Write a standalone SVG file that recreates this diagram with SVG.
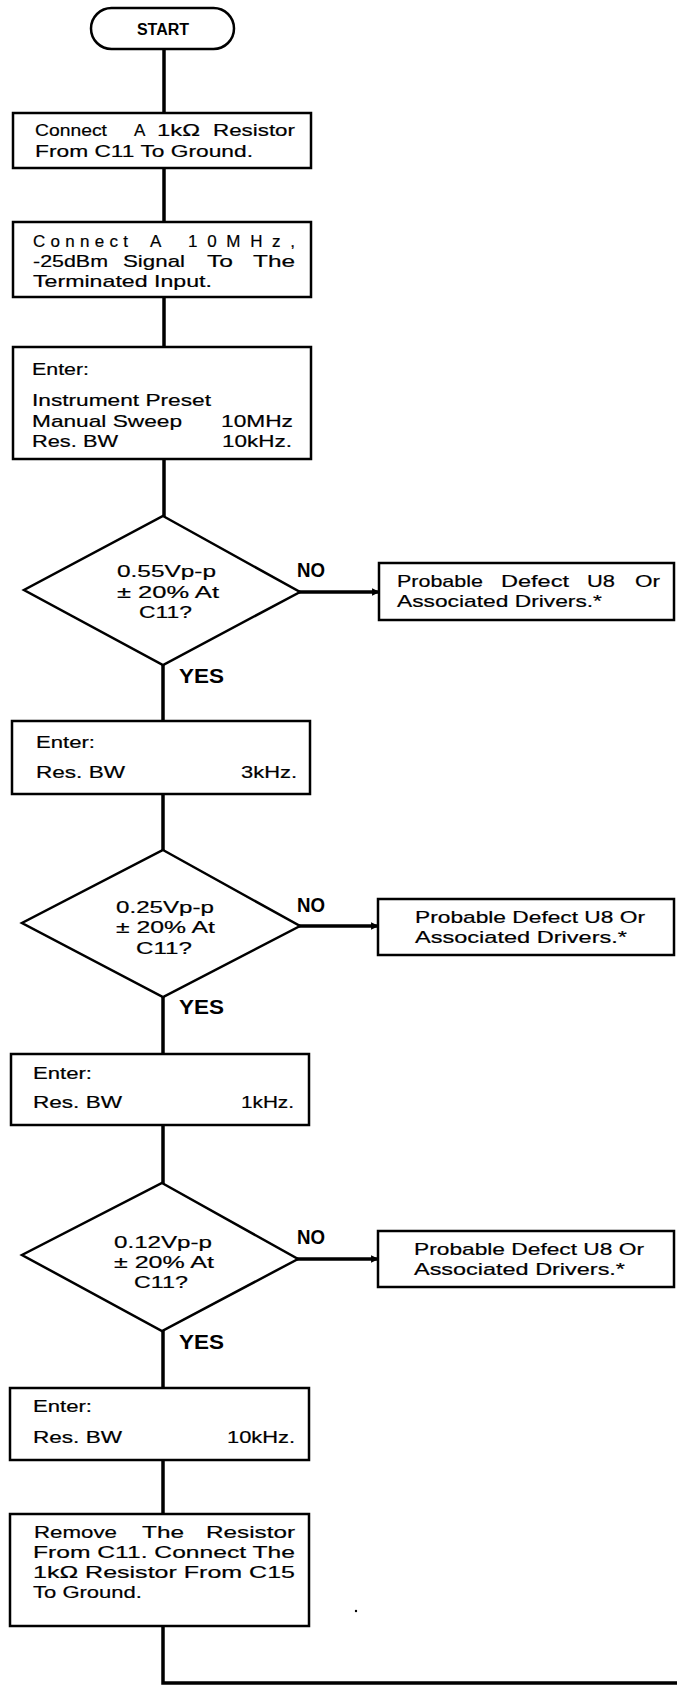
<svg xmlns="http://www.w3.org/2000/svg" width="677" height="1690" viewBox="0 0 677 1690">
  <style>
    .box { fill: #ffffff; stroke: #000000; stroke-width: 2.5; }
    .wire { fill: none; stroke: #000000; stroke-width: 3.5; stroke-linecap: square; }
    .txt { font-family: "Liberation Sans", Arial, sans-serif; font-size: 17px; fill: #000000; stroke: #000000; stroke-width: 0.2; }
    .lbl { font-family: "Liberation Sans", Arial, sans-serif; font-size: 20px; font-weight: bold; fill: #000000; }
    .mid { text-anchor: middle; }
  </style>
  <defs>
    <marker id="arrow" viewBox="0 0 10 10" refX="9" refY="5" markerWidth="2.2" markerHeight="2.2" orient="auto">
      <path d="M0,0 L10,5 L0,10 z" fill="#000000"/>
    </marker>
  </defs>
  <rect width="677" height="1690" fill="#ffffff"/>

  <!-- connectors and their branch labels -->
  <g id="connectors">
    <line class="wire" x1="164" y1="49" x2="164" y2="113"/>
    <line class="wire" x1="164" y1="168" x2="164" y2="222"/>
    <line class="wire" x1="164" y1="297" x2="164" y2="347"/>
    <line class="wire" x1="164" y1="459" x2="164" y2="516"/>
    <line class="wire" x1="300" y1="592" x2="379" y2="592" marker-end="url(#arrow)"/>
    <line class="wire" x1="163" y1="665" x2="163" y2="721"/>
    <line class="wire" x1="163" y1="794" x2="163" y2="850"/>
    <line class="wire" x1="300" y1="926" x2="378" y2="926" marker-end="url(#arrow)"/>
    <line class="wire" x1="163" y1="997" x2="163" y2="1054"/>
    <line class="wire" x1="163" y1="1125" x2="163" y2="1183"/>
    <line class="wire" x1="298" y1="1259" x2="378" y2="1259" marker-end="url(#arrow)"/>
    <line class="wire" x1="163" y1="1331" x2="163" y2="1388"/>
    <line class="wire" x1="163" y1="1460" x2="163" y2="1514"/>
    <polyline class="wire" points="163,1626 163,1683 680,1683"/>
    <text class="lbl" x="297" y="577" textLength="28" lengthAdjust="spacingAndGlyphs">NO</text>
    <text class="lbl" x="179" y="683" textLength="45" lengthAdjust="spacingAndGlyphs">YES</text>
    <text class="lbl" x="297" y="912" textLength="28" lengthAdjust="spacingAndGlyphs">NO</text>
    <text class="lbl" x="179" y="1014" textLength="45" lengthAdjust="spacingAndGlyphs">YES</text>
    <text class="lbl" x="297" y="1244" textLength="28" lengthAdjust="spacingAndGlyphs">NO</text>
    <text class="lbl" x="179" y="1349" textLength="45" lengthAdjust="spacingAndGlyphs">YES</text>
  </g>

  <!-- start terminal -->
  <g id="start">
    <rect class="box" x="91" y="8" width="143" height="41" rx="20.5"/>
    <text class="lbl mid" x="163" y="35" style="font-size:16px">START</text>
  </g>

  <g id="connect-resistor">
    <rect class="box" x="13" y="113" width="298" height="55"/>
    <text class="txt" x="35" y="136" textLength="72" lengthAdjust="spacingAndGlyphs">Connect</text>
    <text class="txt" x="134" y="136">A</text>
    <text class="txt" x="157" y="136" textLength="43" lengthAdjust="spacingAndGlyphs">1kΩ</text>
    <text class="txt" x="213" y="136" textLength="82" lengthAdjust="spacingAndGlyphs">Resistor</text>
    <text class="txt" x="35" y="157" textLength="218" lengthAdjust="spacingAndGlyphs">From C11 To Ground.</text>
  </g>

  <g id="connect-signal">
    <rect class="box" x="13" y="222" width="298" height="75"/>
    <text class="txt" x="33" y="247" textLength="95" lengthAdjust="spacing">Connect</text>
    <text class="txt" x="150" y="247">A</text>
    <text class="txt" x="188" y="247" textLength="107" lengthAdjust="spacing">10MHz,</text>
    <text class="txt" x="33" y="267" textLength="75" lengthAdjust="spacingAndGlyphs">-25dBm</text>
    <text class="txt" x="123" y="267" textLength="62" lengthAdjust="spacingAndGlyphs">Signal</text>
    <text class="txt" x="207" y="267" textLength="26" lengthAdjust="spacingAndGlyphs">To</text>
    <text class="txt" x="253" y="267" textLength="42" lengthAdjust="spacingAndGlyphs">The</text>
    <text class="txt" x="33" y="287" textLength="179" lengthAdjust="spacingAndGlyphs">Terminated Input.</text>
  </g>

  <g id="enter-preset">
    <rect class="box" x="13" y="347" width="298" height="112"/>
    <text class="txt" x="32" y="375" textLength="57" lengthAdjust="spacingAndGlyphs">Enter:</text>
    <text class="txt" x="32" y="406" textLength="179" lengthAdjust="spacingAndGlyphs">Instrument Preset</text>
    <text class="txt" x="32" y="427" textLength="150" lengthAdjust="spacingAndGlyphs">Manual Sweep</text>
    <text class="txt" x="221" y="427" textLength="72" lengthAdjust="spacingAndGlyphs">10MHz</text>
    <text class="txt" x="32" y="447" textLength="86" lengthAdjust="spacingAndGlyphs">Res. BW</text>
    <text class="txt" x="222" y="447" textLength="70" lengthAdjust="spacingAndGlyphs">10kHz.</text>
  </g>

  <g id="check-055">
    <polygon class="box" points="163,516 300,592 163,665 24,590"/>
    <text class="txt" x="117" y="577" textLength="99" lengthAdjust="spacingAndGlyphs">0.55Vp-p</text>
    <text class="txt" x="117" y="598" textLength="102" lengthAdjust="spacingAndGlyphs">± 20% At</text>
    <text class="txt" x="139" y="618" textLength="53" lengthAdjust="spacingAndGlyphs">C11?</text>
  </g>

  <g id="defect-1">
    <rect class="box" x="379" y="563" width="295" height="57"/>
    <text class="txt" x="397" y="587" textLength="86" lengthAdjust="spacingAndGlyphs">Probable</text>
    <text class="txt" x="501" y="587" textLength="68" lengthAdjust="spacingAndGlyphs">Defect</text>
    <text class="txt" x="587" y="587" textLength="28" lengthAdjust="spacingAndGlyphs">U8</text>
    <text class="txt" x="635" y="587" textLength="25" lengthAdjust="spacingAndGlyphs">Or</text>
    <text class="txt" x="397" y="607" textLength="205" lengthAdjust="spacingAndGlyphs">Associated Drivers.*</text>
  </g>

  <g id="enter-3khz">
    <rect class="box" x="12" y="721" width="298" height="73"/>
    <text class="txt" x="36" y="748" textLength="59" lengthAdjust="spacingAndGlyphs">Enter:</text>
    <text class="txt" x="36" y="778" textLength="89" lengthAdjust="spacingAndGlyphs">Res. BW</text>
    <text class="txt" x="241" y="778" textLength="56" lengthAdjust="spacingAndGlyphs">3kHz.</text>
  </g>

  <g id="check-025">
    <polygon class="box" points="163,850 300,926 163,997 22,923"/>
    <text class="txt" x="116" y="913" textLength="98" lengthAdjust="spacingAndGlyphs">0.25Vp-p</text>
    <text class="txt" x="116" y="933" textLength="99" lengthAdjust="spacingAndGlyphs">± 20% At</text>
    <text class="txt" x="136" y="954" textLength="56" lengthAdjust="spacingAndGlyphs">C11?</text>
  </g>

  <g id="defect-2">
    <rect class="box" x="378" y="899" width="296" height="56"/>
    <text class="txt" x="415" y="923" textLength="230" lengthAdjust="spacingAndGlyphs">Probable Defect U8 Or</text>
    <text class="txt" x="415" y="943" textLength="212" lengthAdjust="spacingAndGlyphs">Associated Drivers.*</text>
  </g>

  <g id="enter-1khz">
    <rect class="box" x="11" y="1054" width="298" height="71"/>
    <text class="txt" x="33" y="1079" textLength="59" lengthAdjust="spacingAndGlyphs">Enter:</text>
    <text class="txt" x="33" y="1108" textLength="89" lengthAdjust="spacingAndGlyphs">Res. BW</text>
    <text class="txt" x="241" y="1108" textLength="53" lengthAdjust="spacingAndGlyphs">1kHz.</text>
  </g>

  <g id="check-012">
    <polygon class="box" points="162,1183 298,1259 162,1331 22,1255"/>
    <text class="txt" x="114" y="1248" textLength="98" lengthAdjust="spacingAndGlyphs">0.12Vp-p</text>
    <text class="txt" x="114" y="1268" textLength="100" lengthAdjust="spacingAndGlyphs">± 20% At</text>
    <text class="txt" x="134" y="1288" textLength="54" lengthAdjust="spacingAndGlyphs">C11?</text>
  </g>

  <g id="defect-3">
    <rect class="box" x="378" y="1231" width="296" height="56"/>
    <text class="txt" x="414" y="1255" textLength="230" lengthAdjust="spacingAndGlyphs">Probable Defect U8 Or</text>
    <text class="txt" x="414" y="1275" textLength="211" lengthAdjust="spacingAndGlyphs">Associated Drivers.*</text>
  </g>

  <g id="enter-10khz">
    <rect class="box" x="10" y="1388" width="299" height="72"/>
    <text class="txt" x="33" y="1412" textLength="59" lengthAdjust="spacingAndGlyphs">Enter:</text>
    <text class="txt" x="33" y="1443" textLength="89" lengthAdjust="spacingAndGlyphs">Res. BW</text>
    <text class="txt" x="227" y="1443" textLength="68" lengthAdjust="spacingAndGlyphs">10kHz.</text>
  </g>

  <g id="move-resistor">
    <rect class="box" x="10" y="1514" width="299" height="112"/>
    <text class="txt" x="34" y="1538" textLength="83" lengthAdjust="spacingAndGlyphs">Remove</text>
    <text class="txt" x="142" y="1538" textLength="42" lengthAdjust="spacingAndGlyphs">The</text>
    <text class="txt" x="206" y="1538" textLength="89" lengthAdjust="spacingAndGlyphs">Resistor</text>
    <text class="txt" x="33" y="1558" textLength="262" lengthAdjust="spacingAndGlyphs">From C11. Connect The</text>
    <text class="txt" x="33" y="1578" textLength="262" lengthAdjust="spacingAndGlyphs">1kΩ Resistor From C15</text>
    <text class="txt" x="33" y="1598" textLength="109" lengthAdjust="spacingAndGlyphs">To Ground.</text>
  </g>

  <circle cx="356" cy="1611" r="1.2" fill="#000000"/>
</svg>
